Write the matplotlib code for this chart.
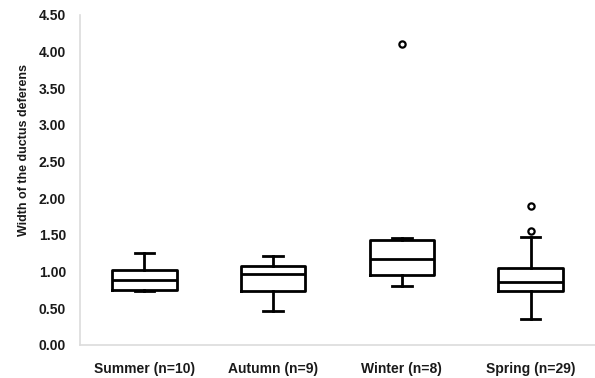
import matplotlib
matplotlib.use("Agg")
import matplotlib.pyplot as plt

# Seasonal box-plot summaries of ductus deferens width
categories = ["Summer (n=10)", "Autumn (n=9)", "Winter (n=8)", "Spring (n=29)"]
whisker_low = [0.73, 0.47, 0.81, 0.35]
q1 = [0.75, 0.74, 0.95, 0.74]
median = [0.88, 0.97, 1.17, 0.86]
q3 = [1.02, 1.08, 1.43, 1.05]
whisker_high = [1.26, 1.21, 1.46, 1.47]
outliers = [[], [], [4.11], [1.90, 1.56]]
y_ticks = [0.0, 0.5, 1.0, 1.5, 2.0, 2.5, 3.0, 3.5, 4.0, 4.5]

plt.rcParams["font.family"] = ["Liberation Sans", "DejaVu Sans"]

fig = plt.figure(figsize=(5.95, 3.78), dpi=100)
ax = fig.add_axes([80 / 595, 33 / 378, 515 / 595, 330 / 378])

stats = []
for i, lab in enumerate(categories):
    stats.append(dict(label=lab, whislo=whisker_low[i], q1=q1[i], med=median[i],
                      q3=q3[i], whishi=whisker_high[i], fliers=outliers[i]))

line = dict(color="black", linewidth=2.0)
ax.bxp(stats, positions=range(1, len(categories) + 1), widths=0.5,
       showfliers=True,
       boxprops=line, whiskerprops=line, capprops=line, medianprops=line,
       capwidths=0.15,
       flierprops=dict(marker="o", markersize=4.5, markerfacecolor="white",
                       markeredgecolor="black", markeredgewidth=1.6))

ax.set_xlim(0.5, 4.5)
ax.set_ylim(0, 4.5)
ax.set_yticks(y_ticks)
ax.set_yticklabels([f"{v:.2f}" for v in y_ticks])
ax.tick_params(length=0, labelsize=10, labelcolor="#1a1a1a")
ax.tick_params(axis="y", pad=10)
ax.tick_params(axis="x", pad=12)
for t in ax.get_xticklabels() + ax.get_yticklabels():
    t.set_fontweight("bold")

for side in ("top", "right"):
    ax.spines[side].set_visible(False)
for side in ("left", "bottom"):
    ax.spines[side].set_color("#dcdcdc")
    ax.spines[side].set_linewidth(1.2)

ax.set_ylabel("Width of the ductus deferens", fontsize=9, fontweight="bold",
              color="#1a1a1a")
ax.yaxis.set_label_coords(-50 / 515, 0.59)

fig.savefig("out.png", dpi=100, facecolor="white")
